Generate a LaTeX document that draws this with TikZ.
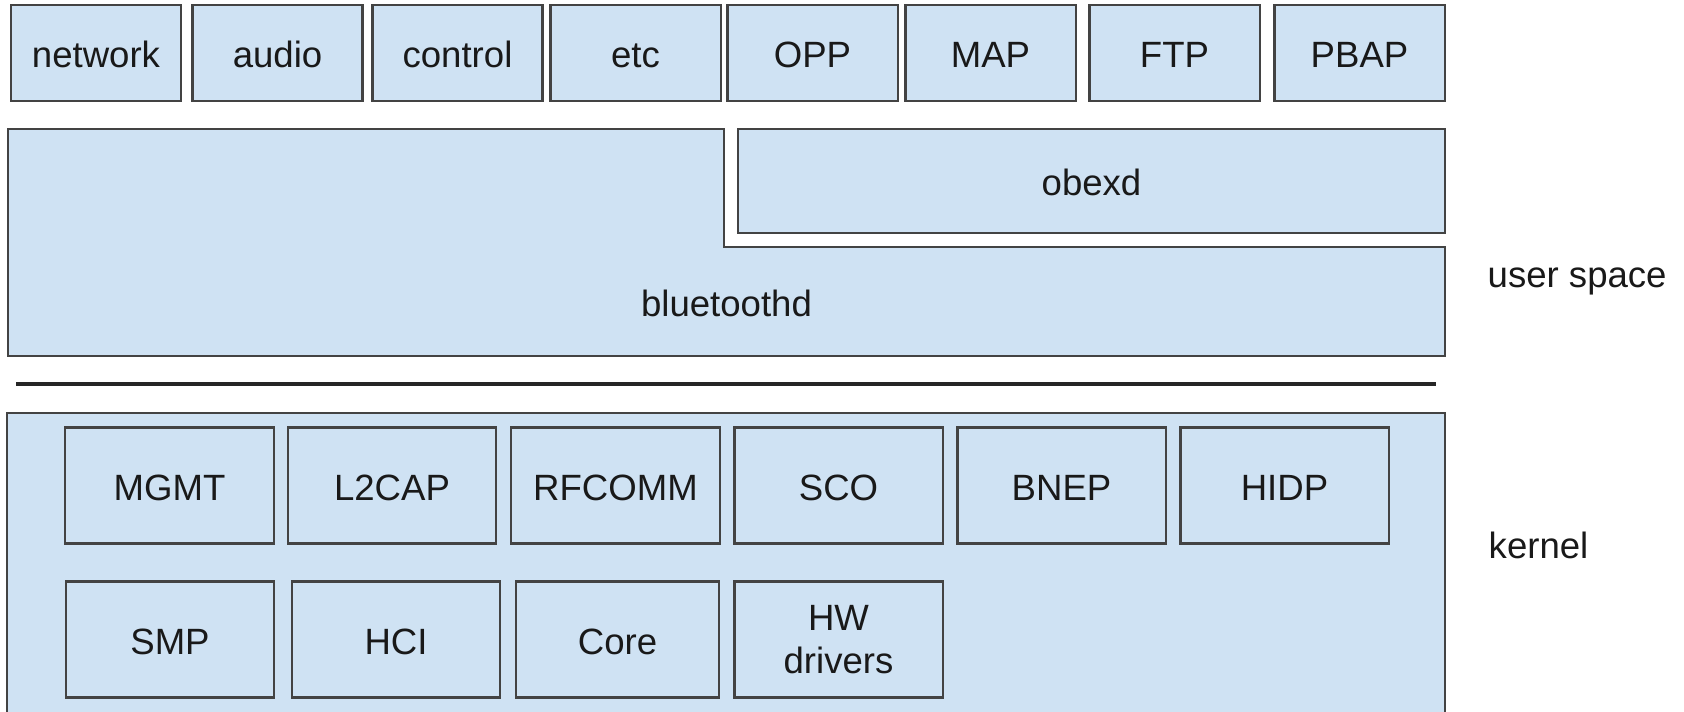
\documentclass[tikz,border=0pt]{standalone}
\usepackage{fontspec}
\setmainfont{Liberation Sans}
\usepackage{tikz}
\definecolor{layerblue}{RGB}{207,226,243}
\definecolor{layerline}{RGB}{67,67,67}

\begin{document}
\begin{tikzpicture}[x=0.01cm, y=-0.01cm,
    txt/.style={font=\fontsize{10.4pt}{12.2pt}\selectfont, text=black!90, inner sep=0pt},
    layer/.style={txt, draw=layerline, fill=layerblue, line width=0.6pt},
    oneline/.style={text height=8.5pt, text depth=0pt},
    profile/.style={layer, oneline, minimum width=1.70cm, minimum height=0.96cm},
    module/.style={layer, oneline, minimum width=2.08cm, minimum height=1.16cm}]
    \useasboundingbox (0,0) rectangle (1684,711);
    \clip (0,0) rectangle (1684,711);
    % profiles
    \node[profile] (network) at (96,53) {network};
    \node[profile] (audio) at (277.5,53) {audio};
    \node[profile] (control) at (457.5,53) {control};
    \node[profile] (etc) at (635.5,53) {etc};
    \node[profile] (opp) at (812.5,53) {OPP};
    \node[profile] (map) at (990.5,53) {MAP};
    \node[profile] (ftp) at (1174.5,53) {FTP};
    \node[profile] (pbap) at (1359.5,53) {PBAP};
    % daemons
    \draw[layer] (8,129) -- (724,129) -- (724,247) -- (1445,247) -- (1445,356) -- (8,356) -- cycle;
    \node[txt, oneline] (bluetoothd) at (726.5,301.5) {bluetoothd};
    \node[layer, oneline, minimum width=7.07cm, minimum height=1.04cm] (obexd) at (1091.5,181) {obexd};
    \node[txt, anchor=base west] (userspace) at (1487,287) {user space};
    % user/kernel boundary
    \coordinate (sepL) at (16,384);
    \coordinate (sepR) at (1436,384);
    \draw[line width=1.1pt, black!85] (sepL) -- (sepR);
    % kernel
    \node[layer, minimum width=14.38cm, minimum height=3.4cm] (kernel) at (726,583) {};
    \node[txt, anchor=base west] (kernellabel) at (1488,558) {kernel};
    \node[module] (mgmt) at (169.5,485.5) {MGMT};
    \node[module] (l2cap) at (392,485.5) {L2CAP};
    \node[module] (rfcomm) at (615.5,485.5) {RFCOMM};
    \node[module] (sco) at (838.5,485.5) {SCO};
    \node[module] (bnep) at (1061.5,485.5) {BNEP};
    \node[module] (hidp) at (1284.5,485.5) {HIDP};
    \node[module] (smp) at (170,639.5) {SMP};
    \node[module] (hci) at (396,639.5) {HCI};
    \node[module, minimum width=2.03cm] (core) at (617.5,639.5) {Core};
    \node[layer, align=center, minimum width=2.08cm, minimum height=1.16cm] (hw) at (838.5,639.5) {HW\\drivers};
\end{tikzpicture}
\end{document}
